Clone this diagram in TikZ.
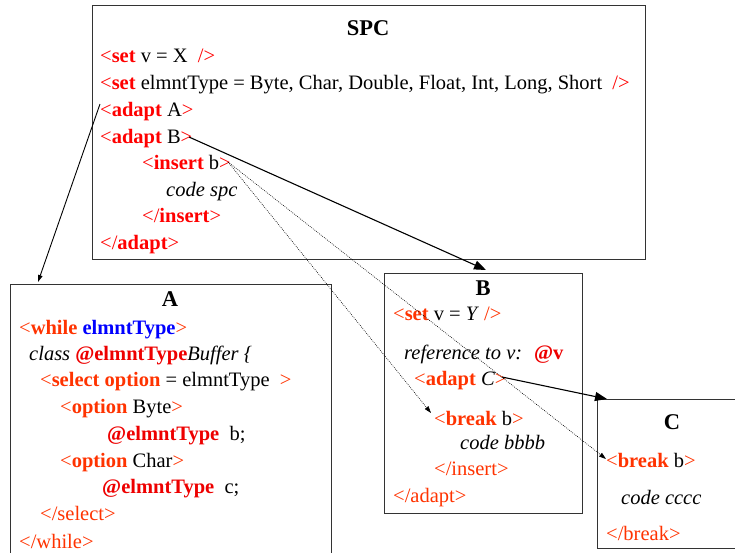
\documentclass[tikz,border=0pt]{standalone}
\usepackage{fontspec}
\setmainfont{Liberation Serif}
\usetikzlibrary{arrows.meta}
\definecolor{spcred}{HTML}{FF0000}
\definecolor{tagor}{HTML}{FF3300}
\definecolor{atred}{HTML}{EE0000}
\definecolor{kwblue}{HTML}{0000FF}
\newcommand{\sr}[1]{\textcolor{spcred}{#1}}
\newcommand{\og}[1]{\textcolor{tagor}{#1}}
\newcommand{\ar}[1]{\textcolor{atred}{#1}}
\tikzset{
  txt/.style={anchor=base west, inner sep=0pt, font=\fontsize{20.5}{24}\selectfont},
  ttl/.style={anchor=base, inner sep=0pt, font=\fontsize{22.5}{26}\selectfont\bfseries},
  box/.style={draw=black!80, line width=1pt},
  bigarrow/.style={line width=1.1pt, -{Triangle[length=12pt,width=9pt]}},
  smallarrow/.style={line width=0.9pt, -{Triangle[length=7pt,width=4.5pt]}},
  dotarrow/.style={line width=0.6pt, dash pattern=on 0.8pt off 1.2pt, -{Triangle[length=7pt,width=4.5pt]}}
}
\begin{document}
\begin{tikzpicture}[x=1pt,y=-1pt]
\clip (0,0) rectangle (735,552);
\fill[white] (0,0) rectangle (735,552);
% boxes
\draw[box] (92,5) rectangle (645,259);
\draw[box] (10,284) rectangle (331,570);
\draw[box] (384,273) rectangle (582,513);
\draw[box] (597,399) rectangle (760,548);
% SPC
\node[ttl] (spct) at (368,35) {SPC};
\node[txt] (s1) at (100,62) {\sr{<\textbf{set}} v = X \ \sr{/>}};
\node[txt] (s2) at (100,89) {\sr{<\textbf{set}} elmntType = Byte, Char, Double, Float, Int, Long, Short \ \sr{/>}};
\node[txt] (s3) at (100,116) {\sr{<\textbf{adapt}} A\sr{>}};
\node[txt] (s4) at (100,143) {\sr{<\textbf{adapt}} B\sr{>}};
\node[txt] (s5) at (142,169) {\sr{<\textbf{insert}} b\sr{>}};
\node[txt] (s6) at (166,196) {\textit{code spc}};
\node[txt] (s7) at (142,222) {\sr{</\textbf{insert}>}};
\node[txt] (s8) at (100,249) {\sr{</\textbf{adapt}>}};
% A
\node[ttl] (at) at (170,306) {A};
\node[txt] (a1) at (19,334) {\og{<\textbf{while}} \textcolor{kwblue}{\textbf{elmntType}}\og{>}};
\node[txt] (a2) at (29,360) {\textit{class} \ar{\textbf{@elmntType}}\textit{Buffer \{}};
\node[txt] (a3) at (40,386) {\og{<\textbf{select option}} = elmntType \ \og{>}};
\node[txt] (a4) at (60,413) {\og{<\textbf{option}} Byte\og{>}};
\node[txt] (a5) at (107,440) {\ar{\textbf{@elmntType}} \ b;};
\node[txt] (a6) at (60,467) {\og{<\textbf{option}} Char\og{>}};
\node[txt] (a7) at (102,493) {\ar{\textbf{@elmntType}} \ c;};
\node[txt] (a8) at (40,520) {\og{</select>}};
\node[txt] (a9) at (19,548) {\og{</while>}};
% B
\node[ttl] (bt) at (483,295) {B};
\node[txt] (b1) at (393,320) {\og{<\textbf{set}} v = \textit{Y} \og{/>}};
\node[txt] (b2) at (404,359) {\textit{reference to v:} \ \ar{\textbf{@v}}};
\node[txt] (b3) at (414,385) {\og{<\textbf{adapt}} \textit{C}\og{>}};
\node[txt] (b4) at (434,425) {\og{<\textbf{break}} b\og{>}};
\node[txt] (b5) at (460,449) {\textit{code bbbb}};
\node[txt] (b6) at (434,475) {\og{</insert>}};
\node[txt] (b7) at (393,502) {\og{</adapt>}};
% C
\node[ttl] (ct) at (672,429) {C};
\node[txt] (c1) at (606,467) {\og{<\textbf{break}} b\og{>}};
\node[txt] (c2) at (621,504) {\textit{code cccc}};
\node[txt] (c3) at (606,540) {\og{</break>}};
% connector ends
\coordinate (startA) at (100,104);
\coordinate (endA) at (38,282);
\coordinate (startB) at (189,137);
\coordinate (endB) at (486,270);
\coordinate (startI) at (228,162);
\coordinate (endBb) at (431,413);
\coordinate (endCb) at (606,459);
\coordinate (startC) at (502,377);
\coordinate (endC) at (607,399);
\draw[smallarrow] (startA) -- (endA);
\draw[bigarrow] (startB) -- (endB);
\draw[dotarrow] (startI) -- (endBb);
\draw[dotarrow] (startI) -- (endCb);
\draw[bigarrow] (startC) -- (endC);
\end{tikzpicture}
\end{document}
